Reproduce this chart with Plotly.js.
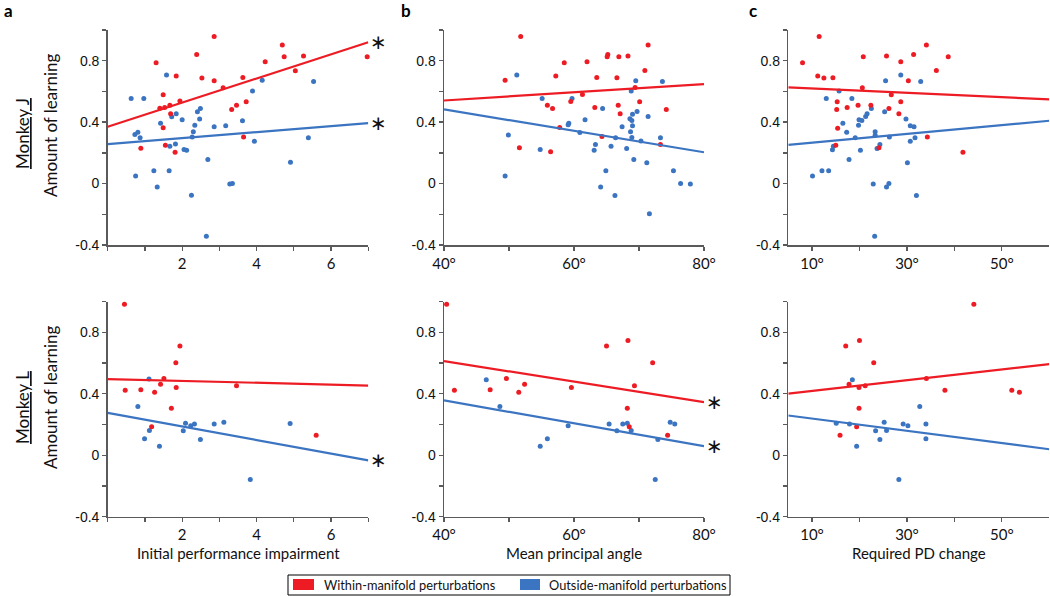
<!DOCTYPE html>
<html><head><meta charset="utf-8">
<script src="https://cdn.plot.ly/plotly-3.0.1.min.js"></script>
<style>html,body{margin:0;padding:0;background:#fff;} #chart{width:1050px;height:596px;}</style>
</head><body><div id="chart"></div>
<script>
// ---------- DATA ----------
// Monkey J, panel a: initial performance impairment
const impJ_within_x = [1.30,2.86,2.39,1.84,2.53,2.86,1.49,3.10,1.94,1.67,1.40,1.53,1.69,1.49,1.55,1.81,0.89,3.33,3.46,3.72,3.63,3.65,4.23,4.69,4.74,5.04,5.26,6.97];
const impJ_within_y = [0.787,0.957,0.84,0.70,0.687,0.67,0.578,0.624,0.537,0.51,0.49,0.496,0.454,0.363,0.25,0.204,0.23,0.483,0.51,0.533,0.69,0.304,0.793,0.902,0.826,0.735,0.83,0.826];
const impJ_outside_x = [0.63,0.97,0.73,0.81,0.87,0.75,1.24,1.33,1.58,1.42,1.72,1.84,1.67,1.82,1.65,2.00,2.05,2.12,2.27,2.30,2.34,2.41,2.49,2.47,2.25,2.69,2.65,2.86,3.17,3.28,3.35,3.62,3.89,3.94,4.15,4.91,5.39,5.53];
const impJ_outside_y = [0.554,0.554,0.32,0.335,0.298,0.05,0.083,-0.022,0.707,0.393,0.435,0.454,0.243,0.257,0.083,0.415,0.222,0.217,0.304,0.337,0.38,0.467,0.489,0.42,-0.076,0.157,-0.343,0.37,0.376,-0.002,0.0,0.409,0.602,0.276,0.672,0.139,0.298,0.665];
// Monkey J, panel b: mean principal angle (deg)
const angJ_within_x = [49.4,51.8,51.6,57.2,55.9,56.7,56.4,58.5,57.8,59.5,61.3,62.0,63.5,63.2,65.1,65.2,66.9,66.6,66.8,67.1,64.3,68.3,69.4,70.1,70.9,71.4,74.2,73.3];
const angJ_within_y = [0.672,0.957,0.233,0.70,0.51,0.489,0.207,0.787,0.365,0.535,0.58,0.793,0.69,0.496,0.826,0.84,0.826,0.689,0.51,0.454,0.307,0.83,0.626,0.533,0.737,0.902,0.483,0.254];
const angJ_outside_x = [49.4,49.9,51.2,55.1,54.8,59.1,59.2,59.7,61.7,60.9,64.4,63.3,63.1,64.9,64.1,65.7,66.3,66.4,67.4,68.1,68.6,68.7,68.9,69.0,69.0,68.8,68.9,69.2,69.5,69.7,70.3,71.2,71.4,71.6,73.3,73.6,75.3,76.4,77.9];
const angJ_outside_y = [0.05,0.317,0.707,0.554,0.222,0.383,0.393,0.554,0.415,0.333,0.489,0.254,0.217,0.083,-0.022,0.243,-0.078,0.298,0.37,0.228,0.422,0.337,0.411,0.452,0.376,0.602,0.30,0.157,0.67,0.47,0.278,0.135,0.437,-0.196,0.298,0.665,0.083,0.0,-0.002];
// Monkey J, panel c: required PD change (deg)
const pdJ_within_x = [8.0,11.5,11.2,12.5,14.4,15.3,15.2,15.4,15.0,17.4,19.7,20.6,20.8,22.4,24.1,25.7,26.7,26.2,28.3,28.7,28.7,30.3,31.4,34.1,34.3,36.2,38.7,41.8];
const pdJ_within_y = [0.787,0.957,0.70,0.687,0.689,0.533,0.483,0.361,0.25,0.496,0.51,0.624,0.826,0.51,0.233,0.83,0.578,0.489,0.454,0.533,0.793,0.67,0.84,0.902,0.304,0.737,0.826,0.204];
const pdJ_outside_x = [10.1,12.1,13.5,13.0,15.7,14.3,14.5,16.5,17.3,17.8,18.4,19.1,19.8,19.9,20.5,20.2,21.3,21.6,22.5,22.9,23.3,23.3,23.2,23.7,24.3,25.3,25.5,25.7,26.2,26.3,28.7,29.8,30.1,30.7,30.7,31.5,31.7,32.0,32.9];
const pdJ_outside_y = [0.05,0.083,0.083,0.554,0.602,0.22,0.243,0.393,0.335,0.157,0.554,0.298,0.38,0.415,0.411,0.217,0.437,0.454,0.489,-0.002,0.337,0.315,-0.343,0.228,0.254,0.467,0.67,-0.022,0.0,0.304,0.707,0.42,0.135,0.376,0.276,0.37,0.298,-0.078,0.665];
// Monkey L, panel a
const impL_within_x = [0.45,0.47,0.89,1.26,1.18,1.42,1.51,1.83,1.84,1.71,1.94,3.46,5.60];
const impL_within_y = [0.983,0.424,0.426,0.411,0.185,0.463,0.50,0.602,0.441,0.307,0.711,0.452,0.13];
const impL_outside_x = [0.81,0.99,1.11,1.12,1.39,2.03,2.09,2.23,2.33,2.49,2.86,3.12,3.83,4.90];
const impL_outside_y = [0.317,0.107,0.496,0.161,0.059,0.159,0.209,0.193,0.204,0.102,0.204,0.215,-0.157,0.207];
// Monkey L, panel b
const angL_within_x = [40.4,41.6,47.1,49.6,51.5,52.4,59.6,65.0,68.3,68.2,68.5,69.3,72.1,74.4];
const angL_within_y = [0.983,0.424,0.426,0.50,0.411,0.463,0.441,0.711,0.748,0.307,0.185,0.452,0.602,0.13];
const angL_outside_x = [46.5,48.6,54.8,55.9,59.1,65.4,66.6,67.5,68.2,68.8,72.5,72.9,74.8,75.5];
const angL_outside_y = [0.491,0.317,0.059,0.107,0.193,0.204,0.159,0.204,0.209,0.161,-0.157,0.102,0.215,0.204];
// Monkey L, panel c
const pdL_within_x = [15.9,17.1,17.8,19.4,19.9,20.0,19.9,21.2,23.0,34.1,38.0,44.1,52.1,53.7];
const pdL_within_y = [0.13,0.711,0.463,0.185,0.441,0.748,0.307,0.452,0.602,0.50,0.424,0.983,0.424,0.411];
const pdL_outside_x = [15.1,17.9,18.5,19.4,23.4,24.3,25.2,25.7,28.3,29.2,30.2,32.7,34.0,34.0];
const pdL_outside_y = [0.209,0.204,0.491,0.059,0.159,0.102,0.215,0.161,-0.157,0.204,0.193,0.317,0.204,0.107];

// Regression fits (values at the x-range ends)
const impFitX = [0, 7];
const angFitX = [40, 80];
const pdFitX  = [5, 60];
const impJ_withinFit = [0.37, 0.92],   impJ_outsideFit = [0.257, 0.393];
const angJ_withinFit = [0.541, 0.648], angJ_outsideFit = [0.483, 0.204];
const pdJ_withinFit  = [0.626, 0.548], pdJ_outsideFit  = [0.252, 0.409];
const impL_withinFit = [0.496, 0.454], impL_outsideFit = [0.276, -0.033];
const angL_withinFit = [0.613, 0.346], angL_outsideFit = [0.357, 0.059];
const pdL_withinFit  = [0.402, 0.593], pdL_outsideFit  = [0.259, 0.039];
// significance of each fit [within, outside]
const impJ_sig = [true, true],  angJ_sig = [false, false], pdJ_sig = [false, false];
const impL_sig = [false, true], angL_sig = [true, true],   pdL_sig = [false, false];

// Axis ticks
const impTicks = [0,1,2,3,4,5,6,7];
const impTickText = ['','','2','','4','','6',''];
const angTicks = [40,50,60,70,80];
const angTickText = ['40°','','60°','','80°'];
const pdTicks = [10,20,30,40,50];
const pdTickText = ['10°','','30°','','50°'];
const yTicks = [-0.4,-0.2,0,0.2,0.4,0.6,0.8,1.0];
const yTickText = ['-0.4','','0','','0.4','','0.8',''];

const xTitles = ['Initial performance impairment','Mean principal angle','Required PD change'];
const monkeys = ['Monkey J','Monkey L'];
const panelLetters = ['a','b','c'];
const seriesNames = ['Within-manifold perturbations','Outside-manifold perturbations'];

// ---------- STYLE ----------
const RED = '#ED1C24', BLUE = '#3B74C1', AX = '#5a5a5a';
const W = 1050, H = 596;
const fx = p => p / W, fy = p => 1 - p / H;
const sans = 'Lato, "Open Sans", sans-serif';
const arial = '"Liberation Sans", Arial, sans-serif';

const colDom = [[107.7, 368.3], [444, 704], [788.3, 1049.3]];
const rowDom = [[30, 245], [301.7, 516.7]];

const panels = [
  [ {wx:impJ_within_x, wy:impJ_within_y, ox:impJ_outside_x, oy:impJ_outside_y, fX:impFitX, wf:impJ_withinFit, of:impJ_outsideFit, sig:impJ_sig},
    {wx:angJ_within_x, wy:angJ_within_y, ox:angJ_outside_x, oy:angJ_outside_y, fX:angFitX, wf:angJ_withinFit, of:angJ_outsideFit, sig:angJ_sig},
    {wx:pdJ_within_x,  wy:pdJ_within_y,  ox:pdJ_outside_x,  oy:pdJ_outside_y,  fX:pdFitX,  wf:pdJ_withinFit,  of:pdJ_outsideFit,  sig:pdJ_sig} ],
  [ {wx:impL_within_x, wy:impL_within_y, ox:impL_outside_x, oy:impL_outside_y, fX:impFitX, wf:impL_withinFit, of:impL_outsideFit, sig:impL_sig},
    {wx:angL_within_x, wy:angL_within_y, ox:angL_outside_x, oy:angL_outside_y, fX:angFitX, wf:angL_withinFit, of:angL_outsideFit, sig:angL_sig},
    {wx:pdL_within_x,  wy:pdL_within_y,  ox:pdL_outside_x,  oy:pdL_outside_y,  fX:pdFitX,  wf:pdL_withinFit,  of:pdL_outsideFit,  sig:pdL_sig} ]
];
const xTickSets = [[impTicks, impTickText], [angTicks, angTickText], [pdTicks, pdTickText]];

const traces = [];
const layout = {
  width: W, height: H, margin: {l:0, r:0, t:0, b:0},
  paper_bgcolor: '#fff', plot_bgcolor: 'rgba(0,0,0,0)',
  showlegend: false, annotations: [], shapes: []
};

let k = 0;
for (let r = 0; r < 2; r++) {
  for (let c = 0; c < 3; c++) {
    k++;
    const xa = 'x' + (k === 1 ? '' : k), ya = 'y' + (k === 1 ? '' : k);
    const xk = 'xaxis' + (k === 1 ? '' : k), yk = 'yaxis' + (k === 1 ? '' : k);
    const p = panels[r][c];
    layout[xk] = {
      domain: [fx(colDom[c][0]), fx(colDom[c][1])], anchor: ya,
      range: [p.fX[0], p.fX[1]], showgrid: false, zeroline: false,
      showline: true, linecolor: AX, linewidth: 1.5,
      ticks: 'outside', ticklen: 4, tickwidth: 1.3, tickcolor: AX,
      tickmode: 'array', tickvals: xTickSets[c][0], ticktext: xTickSets[c][1],
      tickfont: {family: sans, size: 15, color: '#111'}, fixedrange: true
    };
    layout[yk] = {
      domain: [fy(rowDom[r][1]), fy(rowDom[r][0])], anchor: xa,
      range: [-0.4, 1.0], showgrid: false, zeroline: false,
      showline: true, linecolor: AX, linewidth: 1.5,
      ticks: 'outside', ticklen: 4, tickwidth: 1.3, tickcolor: AX,
      tickmode: 'array', tickvals: yTicks, ticktext: yTickText,
      tickfont: {family: arial, size: 14, color: '#111'}, fixedrange: true
    };
    traces.push({type:'scatter', mode:'markers', x:p.ox, y:p.oy, xaxis:xa, yaxis:ya,
      marker:{color:BLUE, size:5}, name:seriesNames[1], cliponaxis:false, hoverinfo:'skip'});
    traces.push({type:'scatter', mode:'markers', x:p.wx, y:p.wy, xaxis:xa, yaxis:ya,
      marker:{color:RED, size:5}, name:seriesNames[0], cliponaxis:false, hoverinfo:'skip'});
    traces.push({type:'scatter', mode:'lines', x:p.fX, y:p.wf, xaxis:xa, yaxis:ya,
      line:{color:RED, width:2.2}, hoverinfo:'skip'});
    traces.push({type:'scatter', mode:'lines', x:p.fX, y:p.of, xaxis:xa, yaxis:ya,
      line:{color:BLUE, width:2.2}, hoverinfo:'skip'});
    [p.wf, p.of].forEach((f, i) => {
      if (p.sig[i]) layout.annotations.push({
        xref: xa, yref: ya, x: p.fX[1], y: f[1], xanchor: 'center', yanchor: 'middle',
        xshift: 10, text: '∗', showarrow: false,
        font: {family: '"DejaVu Sans"', size: 20, color: '#111'}
      });
    });
  }
}

// panel letters
const letterX = [8, 406, 753];
panelLetters.forEach((t, i) => layout.annotations.push({
  xref:'paper', yref:'paper', x: fx(letterX[i]), y: fy(10), xanchor:'center', yanchor:'middle',
  text: '<b>' + t + '</b>', showarrow:false, font:{family: sans, size: 17, color:'#000'}
}));
// x titles (bottom row)
xTitles.forEach((t, i) => layout.annotations.push({
  xref:'paper', yref:'paper', x: fx((colDom[i][0] + colDom[i][1]) / 2), y: fy(553),
  xanchor:'center', yanchor:'middle', text: t, showarrow:false,
  font:{family: sans, size: 15, color:'#111'}
}));
// y titles and monkey labels
const yTitleY = [125, 397], monkeyY = [134, 408];
monkeys.forEach((m, i) => {
  layout.annotations.push({
    xref:'paper', yref:'paper', x: fx(50), y: fy(yTitleY[i]), xanchor:'center', yanchor:'middle',
    textangle: -90, text: 'Amount of learning', showarrow:false,
    font:{family: sans, size: 17, color:'#111'}
  });
  layout.annotations.push({
    xref:'paper', yref:'paper', x: fx(22), y: fy(monkeyY[i]), xanchor:'center', yanchor:'middle',
    textangle: -90, text: '<u>' + m + '</u>', showarrow:false,
    font:{family: sans, size: 17, color:'#111'}
  });
});
// legend box
layout.shapes.push({type:'rect', xref:'paper', yref:'paper', x0: fx(288), x1: fx(730), y0: fy(595), y1: fy(575),
  line:{color:'#000', width:1}, fillcolor:'rgba(0,0,0,0)'});
const swX = [[293, 314], [520, 540]], txtX = [321.7, 546.7], swCol = [RED, BLUE];
seriesNames.forEach((s, i) => {
  layout.shapes.push({type:'rect', xref:'paper', yref:'paper', x0: fx(swX[i][0]), x1: fx(swX[i][1]),
    y0: fy(590), y1: fy(579), line:{width:0}, fillcolor: swCol[i]});
  layout.annotations.push({xref:'paper', yref:'paper', x: fx(txtX[i]), y: fy(585), xanchor:'left', yanchor:'middle',
    text: s, showarrow:false, font:{family: sans, size: 12.8, color:'#111'}});
});

Plotly.newPlot('chart', traces, layout, {staticPlot: true, displayModeBar: false});
</script></body></html>
